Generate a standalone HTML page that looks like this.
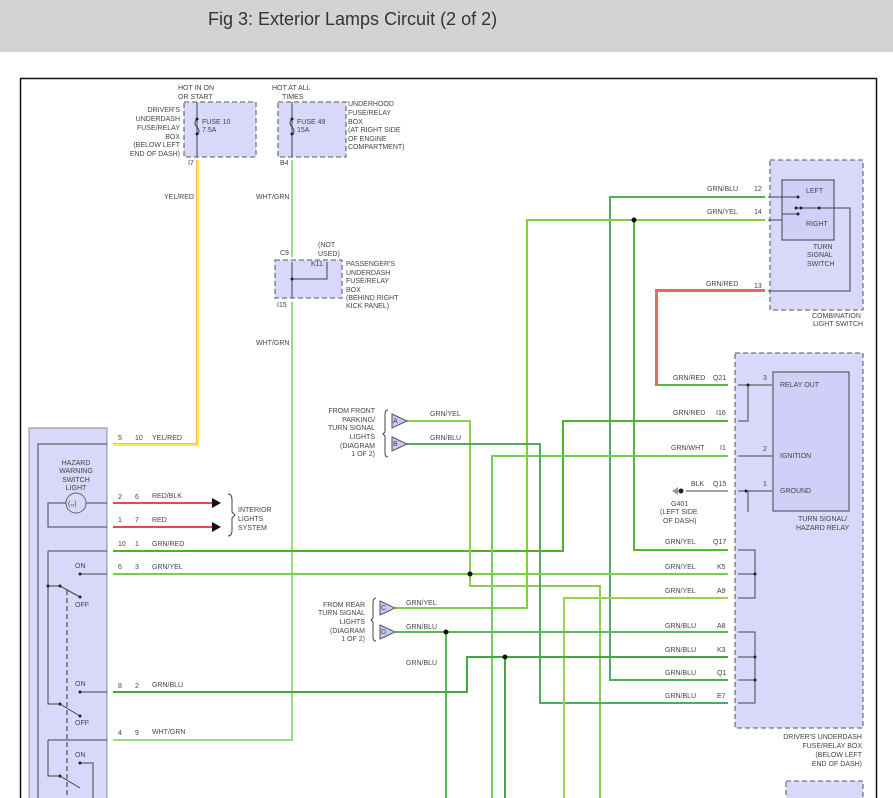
<!DOCTYPE html>
<html><head><meta charset="utf-8"><style>
body{margin:0;background:#fff;width:893px;height:798px;overflow:hidden}
svg{display:block}
text{font-family:"Liberation Sans",sans-serif;font-size:7px;fill:#444}
.t{font-size:18px;fill:#333}
.w{fill:none;stroke-width:2}
.k{fill:none;stroke:#444;stroke-width:1}
.box{fill:#d8d8fa;stroke:#777;stroke-width:1.3;stroke-dasharray:5,3}
</style></head><body>
<svg width="893" height="798" viewBox="0 0 893 798">
<rect x="0" y="0" width="893" height="52" fill="#d3d3d3"/>
<text class="t" x="208" y="25">Fig 3: Exterior Lamps Circuit (2 of 2)</text>
<rect x="20.5" y="78.5" width="856" height="730" fill="#fff" stroke="#111" stroke-width="1.5"/>

<!-- fuse boxes -->
<rect class="box" x="184" y="102" width="72" height="55"/>
<rect class="box" x="278" y="102" width="68" height="55"/>
<rect class="box" x="275" y="260" width="67" height="38"/>
<line class="k" x1="197" y1="102" x2="197" y2="157"/>
<path class="k" d="M197,119 q-4,4 0,8 q4,4 0,8"/>
<circle cx="197" cy="119" r="1.5" fill="#222"/><circle cx="197" cy="134" r="1.5" fill="#222"/>
<line class="k" x1="292" y1="102" x2="292" y2="157"/>
<path class="k" d="M292,119 q-4,4 0,8 q4,4 0,8"/>
<circle cx="292" cy="119" r="1.5" fill="#222"/><circle cx="292" cy="134" r="1.5" fill="#222"/>
<line class="k" x1="292" y1="262" x2="292" y2="298"/>
<path class="k" d="M292,279 H327 V262"/><circle cx="292" cy="279" r="1.5" fill="#222"/>
<text x="178" y="90">HOT IN ON</text><text x="178" y="99">OR START</text>
<text x="202" y="124">FUSE 10</text><text x="202" y="132">7.5A</text>
<g text-anchor="end"><text x="180" y="112">DRIVER'S</text><text x="180" y="121">UNDERDASH</text><text x="180" y="130">FUSE/RELAY</text><text x="180" y="139">BOX</text><text x="180" y="147">(BELOW LEFT</text><text x="180" y="156">END OF DASH)</text></g>
<text x="188" y="165">I7</text>
<text x="272" y="90">HOT AT ALL</text><text x="282" y="99">TIMES</text>
<text x="297" y="124">FUSE 49</text><text x="297" y="132">15A</text>
<text x="348" y="106">UNDERHOOD</text><text x="348" y="115">FUSE/RELAY</text><text x="348" y="124">BOX</text><text x="348" y="132">(AT RIGHT SIDE</text><text x="348" y="141">OF ENGINE</text><text x="348" y="149">COMPARTMENT)</text>
<text x="280" y="165">B4</text>
<text x="280" y="255">C9</text><text x="318" y="247">(NOT</text><text x="318" y="256">USED)</text><text x="311" y="266">K11</text>
<text x="346" y="266">PASSENGER'S</text><text x="346" y="275">UNDERDASH</text><text x="346" y="283">FUSE/RELAY</text><text x="346" y="292">BOX</text><text x="346" y="300">(BEHIND RIGHT</text><text x="346" y="308">KICK PANEL)</text>
<text x="277" y="307">I15</text>
<text x="164" y="199">YEL/RED</text><text x="256" y="199">WHT/GRN</text><text x="256" y="345">WHT/GRN</text>

<!-- combination switch -->
<rect class="box" x="770" y="160" width="93" height="150"/>
<rect x="782" y="180" width="52" height="60" fill="#cfcff8" stroke="#444"/>
<path class="k" d="M768,197 H798 M768,220 H782 M782,214 H798 M796,208 H819 M819,208 H850 V291 H768"/>
<circle cx="798" cy="197" r="1.5" fill="#222"/><circle cx="798" cy="214" r="1.5" fill="#222"/><circle cx="796" cy="208" r="1.5" fill="#222"/><circle cx="801" cy="208" r="1.5" fill="#222"/><circle cx="819" cy="208" r="1.5" fill="#222"/>
<text x="806" y="193">LEFT</text><text x="806" y="226">RIGHT</text>
<text x="813" y="249">TURN</text><text x="807" y="257">SIGNAL</text><text x="807" y="266">SWITCH</text>
<text x="812" y="318">COMBINATION</text><text x="813" y="326">LIGHT SWITCH</text>
<text x="707" y="191">GRN/BLU</text><text x="754" y="191">12</text>
<text x="707" y="214">GRN/YEL</text><text x="754" y="214">14</text>
<text x="706" y="286">GRN/RED</text><text x="754" y="288">13</text>

<!-- relay box -->
<rect class="box" x="735" y="353" width="128" height="375"/>
<rect x="773" y="372" width="76" height="139" fill="#cfcff8" stroke="#444"/>
<path class="k" d="M738,385 H772 M738,421 H748 V385 M738,456 H772 M738,491 H772 M748,491 V512 M738,550 H755 V598 H738 M738,574 H755 M738,632 H755 V703 H738 M738,657 H755 M738,680 H755"/>
<circle cx="748" cy="385" r="1.5" fill="#222"/><circle cx="746" cy="491" r="1.5" fill="#222"/>
<circle cx="755" cy="574" r="1.5" fill="#222"/><circle cx="755" cy="657" r="1.5" fill="#222"/><circle cx="755" cy="680" r="1.5" fill="#222"/>
<text x="780" y="387">RELAY OUT</text><text x="780" y="458">IGNITION</text><text x="780" y="493">GROUND</text>
<text x="763" y="380">3</text><text x="763" y="451">2</text><text x="763" y="486">1</text>
<text x="798" y="521">TURN SIGNAL/</text><text x="796" y="530">HAZARD RELAY</text>
<g text-anchor="end"><text x="862" y="739">DRIVER'S UNDERDASH</text><text x="862" y="748">FUSE/RELAY BOX</text><text x="862" y="757">(BELOW LEFT</text><text x="862" y="766">END OF DASH)</text></g>
<rect class="box" x="786" y="781" width="77" height="30"/>
<g>
<text x="673" y="380">GRN/RED</text><text x="713" y="380">Q21</text>
<text x="673" y="415">GRN/RED</text><text x="716" y="415">I16</text>
<text x="671" y="450">GRN/WHT</text><text x="720" y="450">I1</text>
<text x="691" y="486">BLK</text><text x="713" y="486">Q15</text>
<text x="665" y="544">GRN/YEL</text><text x="713" y="544">Q17</text>
<text x="665" y="569">GRN/YEL</text><text x="717" y="569">K5</text>
<text x="665" y="593">GRN/YEL</text><text x="717" y="593">A9</text>
<text x="665" y="628">GRN/BLU</text><text x="717" y="628">A8</text>
<text x="665" y="652">GRN/BLU</text><text x="717" y="652">K3</text>
<text x="665" y="675">GRN/BLU</text><text x="717" y="675">Q1</text>
<text x="665" y="698">GRN/BLU</text><text x="717" y="698">E7</text>
</g>
<path class="k" d="M686,491 H728"/><circle cx="681" cy="491" r="2.5" fill="#222"/><path d="M672,491 L678,487 V495Z" fill="#999"/>
<text x="671" y="506">G401</text><text x="660" y="514">(LEFT SIDE</text><text x="663" y="523">OF DASH)</text>

<!-- wires -->
<path class="w" stroke="#f6b86a" d="M197,160 V444 H113"/>
<path class="w" stroke="#ffe44a" stroke-width="1" d="M198,160 V445 H113"/>
<path class="w" stroke="#9fd88a" d="M292,160 V257 M292,302 V740 H113"/>
<path class="w" stroke="#4aae5a" d="M765,197 H610 V680 H728"/>
<path class="w" stroke="#7cd040" d="M765,220 H527 V608 H395"/>
<path class="w" stroke="#54b830" d="M634,220 V550 H728"/>
<circle cx="634" cy="220" r="2.5" fill="#111"/>
<path class="w" stroke="#5cb83a" d="M765,291 H657 V385 H728"/>
<path class="w" stroke="#e86a5a" stroke-width="1" d="M765,290 H656 V386"/>
<path class="w" stroke="#50b030" d="M728,421 H563 V551 H113"/>
<path class="w" stroke="#6cd050" d="M728,456 H492 V798"/>
<path class="w" stroke="#8ad050" d="M407,421 H470 V586 H600 V798"/>
<path class="w" stroke="#4aae5a" d="M407,444 H540 V703 H728"/>
<path class="w" stroke="#7cd040" d="M113,574 H728"/>
<circle cx="470" cy="574" r="2.5" fill="#111"/>
<path class="w" stroke="#9cd050" d="M728,598 H564 V798"/>
<path class="w" stroke="#5cb85a" d="M395,632 H728 M446,632 V798"/>
<circle cx="446" cy="632" r="2.5" fill="#111"/>
<path class="w" stroke="#40aa40" d="M728,657 H467 V692 H113 M505,657 V798"/>
<circle cx="505" cy="657" r="2.5" fill="#111"/>
<path class="w" stroke="#e8484a" d="M113,503 H212 M113,527 H212"/>
<path d="M212,498 L221,503 L212,508Z M212,522 L221,527 L212,532Z" fill="#111"/>
<path class="k" d="M228,494 q4,0 4,6 v12 l3,3 l-3,3 v12 q0,6 -4,6"/>
<text x="238" y="512">INTERIOR</text><text x="238" y="521">LIGHTS</text><text x="238" y="530">SYSTEM</text>

<!-- triangles -->
<g fill="#c8c8f4" stroke="#555">
<path d="M392,414 L407,421 L392,428Z"/><path d="M392,437 L407,444 L392,451Z"/>
<path d="M380,601 L395,608 L380,615Z"/><path d="M380,625 L395,632 L380,639Z"/>
</g>
<text x="393" y="423" font-size="6">A</text><text x="393" y="446" font-size="6">B</text>
<text x="381" y="610" font-size="6">C</text><text x="381" y="634" font-size="6">D</text>
<g text-anchor="end"><text x="375" y="413">FROM FRONT</text><text x="375" y="422">PARKING/</text><text x="375" y="430">TURN SIGNAL</text><text x="375" y="439">LIGHTS</text><text x="375" y="448">(DIAGRAM</text><text x="375" y="456">1 OF 2)</text>
<text x="365" y="607">FROM REAR</text><text x="365" y="615">TURN SIGNAL</text><text x="365" y="624">LIGHTS</text><text x="365" y="633">(DIAGRAM</text><text x="365" y="641">1 OF 2)</text></g>
<path class="k" d="M388,410 q-3,0 -3,5 v17 l-2,2 l2,2 v17 q0,4 3,4 M376,598 q-3,0 -3,5 v15 l-2,2 l2,2 v15 q0,4 3,4"/>
<text x="430" y="416">GRN/YEL</text><text x="430" y="440">GRN/BLU</text>
<text x="406" y="605">GRN/YEL</text><text x="406" y="629">GRN/BLU</text><text x="406" y="665">GRN/BLU</text>

<!-- hazard switch -->
<rect x="29" y="428" width="78" height="380" fill="#d8d8fa" stroke="#888"/>
<path class="k" d="M38,798 V444 H107 M66,503 H48 V527 H107 M86,503 H107 M48,551 H107 M48,551 V704 H60 M80,574 H107 M80,692 H107 M48,586 H60 L80,597 M60,704 L80,716 M48,740 H107 M48,740 V776 H60 L80,788 M80,763 H93 V798"/>
<circle cx="76" cy="503" r="10" fill="none" stroke="#666"/>
<text x="68" y="506" font-size="7">(ᴗ)</text>
<path d="M67,590 V800" stroke="#333" stroke-dasharray="5,3" fill="none"/>
<g fill="#222"><circle cx="48" cy="586" r="1.5"/><circle cx="60" cy="586" r="1.5"/><circle cx="80" cy="574" r="1.5"/><circle cx="80" cy="597" r="1.5"/><circle cx="60" cy="704" r="1.5"/><circle cx="80" cy="692" r="1.5"/><circle cx="80" cy="716" r="1.5"/><circle cx="60" cy="776" r="1.5"/><circle cx="80" cy="763" r="1.5"/></g>
<g text-anchor="middle"><text x="76" y="465">HAZARD</text><text x="76" y="473">WARNING</text><text x="76" y="482">SWITCH</text><text x="76" y="490">LIGHT</text></g>
<text x="75" y="568">ON</text><text x="75" y="607">OFF</text><text x="75" y="686">ON</text><text x="75" y="725">OFF</text><text x="75" y="757">ON</text>
<text x="118" y="440">5</text><text x="135" y="440">10</text><text x="152" y="440">YEL/RED</text>
<text x="118" y="499">2</text><text x="135" y="499">6</text><text x="152" y="498">RED/BLK</text>
<text x="118" y="522">1</text><text x="135" y="522">7</text><text x="152" y="522">RED</text>
<text x="118" y="546">10</text><text x="135" y="546">1</text><text x="152" y="546">GRN/RED</text>
<text x="118" y="569">6</text><text x="135" y="569">3</text><text x="152" y="569">GRN/YEL</text>
<text x="118" y="688">8</text><text x="135" y="688">2</text><text x="152" y="687">GRN/BLU</text>
<text x="118" y="735">4</text><text x="135" y="735">9</text><text x="152" y="734">WHT/GRN</text>
</svg>
</body></html>
